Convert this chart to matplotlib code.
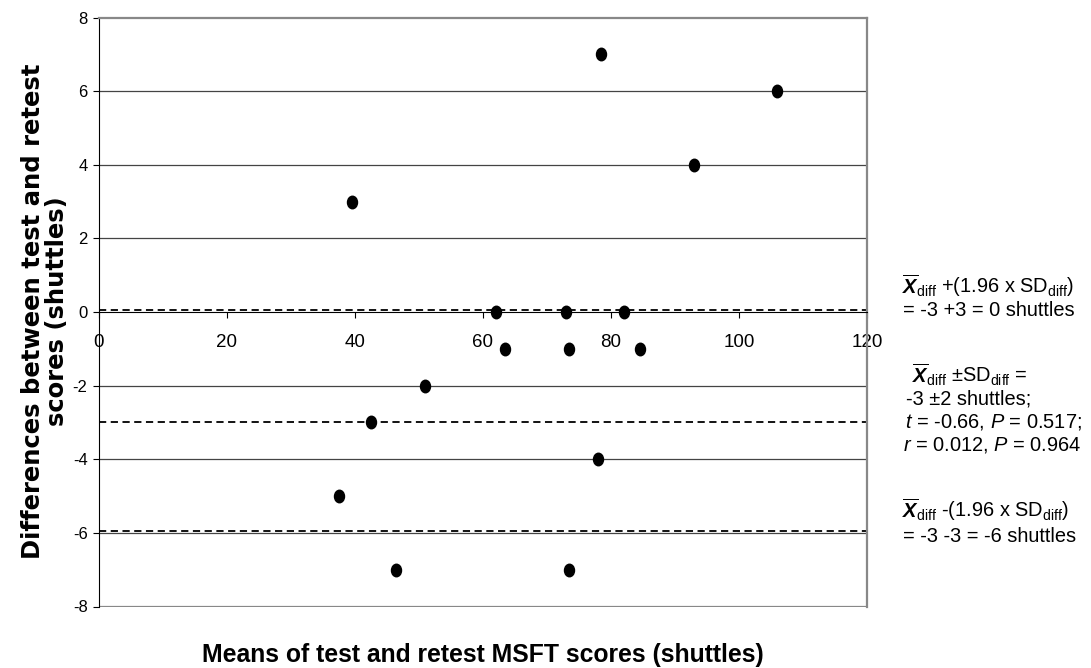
import numpy as np
import matplotlib
matplotlib.use("Agg")
import matplotlib.pyplot as plt
from matplotlib.path import Path
from matplotlib.transforms import Affine2D

plt.rcParams['font.family'] = ['Liberation Sans', 'DejaVu Sans']
plt.rcParams['axes.unicode_minus'] = False
plt.rcParams['mathtext.fontset'] = 'custom'
plt.rcParams['mathtext.rm'] = 'Liberation Sans'
plt.rcParams['mathtext.it'] = 'Liberation Sans:italic'
plt.rcParams['mathtext.bf'] = 'Liberation Sans:italic:bold'

# Bland-Altman style data: mean of test/retest vs difference
means = [39.5, 78.5, 106.0, 93.0, 62.0, 73.0, 82.0, 63.5, 73.5, 84.5,
         51.0, 42.5, 78.0, 37.5, 46.5, 73.5]
diffs = [3, 7, 6, 4, 0, 0, 0, -1, -1, -1, -2, -3, -4, -5, -7, -7]

mean_diff = -3
upper_loa = 0.05
lower_loa = -5.95

x_ticks = [0, 20, 40, 60, 80, 100, 120]
y_ticks = [-8, -6, -4, -2, 0, 2, 4, 6, 8]
grid_levels = [-6, -4, -2, 2, 4, 6]

W, H = 1091, 668
fig = plt.figure(figsize=(W / 100, H / 100), dpi=100)
ax = fig.add_axes([98.7 / W, 1 - 606.5 / H, (867 - 98.7) / W, (606.5 - 17.5) / H])

for g in grid_levels:
    ax.axhline(g, color='#444444', lw=0.9, zorder=1)
ax.axhline(-8, color='#888888', lw=1.6, zorder=1)

for lv in [upper_loa, mean_diff, lower_loa]:
    ax.axhline(lv, color='black', lw=1.3, ls=(0, (4, 2.5)), zorder=2)

# slightly tall elliptical markers like the original
ell = Path.unit_circle().transformed(Affine2D().scale(0.8, 1.0))
ax.plot(means, diffs, ls='none', marker=ell, markersize=9, color='black', zorder=4)

ax.set_xlim(0, 120)
ax.set_ylim(-8, 8)
ax.set_xticks(x_ticks)
ax.set_yticks(y_ticks)

ax.spines['bottom'].set_position(('data', 0))
ax.spines['bottom'].set_color('black')
ax.spines['bottom'].set_zorder(3)
ax.spines['left'].set_color('black')
ax.spines['top'].set_color('#888888')
ax.spines['right'].set_color('#888888')
ax.spines['top'].set_linewidth(1.6)
ax.spines['right'].set_linewidth(1.6)

ax.tick_params(axis='x', direction='out', length=4.5, width=0.8, pad=11, labelsize=13.5)
ax.tick_params(axis='y', direction='out', length=4, width=0.8, pad=4, labelsize=12)

fig.text(483 / W, 1 - 662 / H, 'Means of test and retest MSFT scores (shuttles)',
         ha='center', va='baseline', fontsize=17.8, fontweight='bold')

fig.text(45 / W, 1 - 311 / H, 'Differences between test and retest\nscores (shuttles)',
         ha='center', va='center', rotation=90, fontsize=17.5, fontweight='bold',
         family='DejaVu Sans', linespacing=0.95, multialignment='center')

notes = [
    (902, 286, r'$\overline{\mathbf{X}}_{\mathrm{diff}}$ +(1.96 x SD$_{\mathrm{diff}}$)'),
    (903, 311, '= -3 +3 = 0 shuttles'),
    (912, 375, r'$\overline{\mathbf{X}}_{\mathrm{diff}}$ ±SD$_{\mathrm{diff}}$ ='),
    (906, 399, '-3 ±2 shuttles;'),
    (905, 422, r'$\mathit{t}$ = -0.66, $\mathit{P}$ = 0.517;'),
    (903, 445, r'$\mathit{r}$ = 0.012, $\mathit{P}$ = 0.964'),
    (902, 510, r'$\overline{\mathbf{X}}_{\mathrm{diff}}$ -(1.96 x SD$_{\mathrm{diff}}$)'),
    (903, 536, '= -3 -3 = -6 shuttles'),
]
for px, py, s in notes:
    fig.text(px / W, 1 - py / H, s, ha='left', va='center', fontsize=14.4)

fig.savefig('out.png', dpi=100)
